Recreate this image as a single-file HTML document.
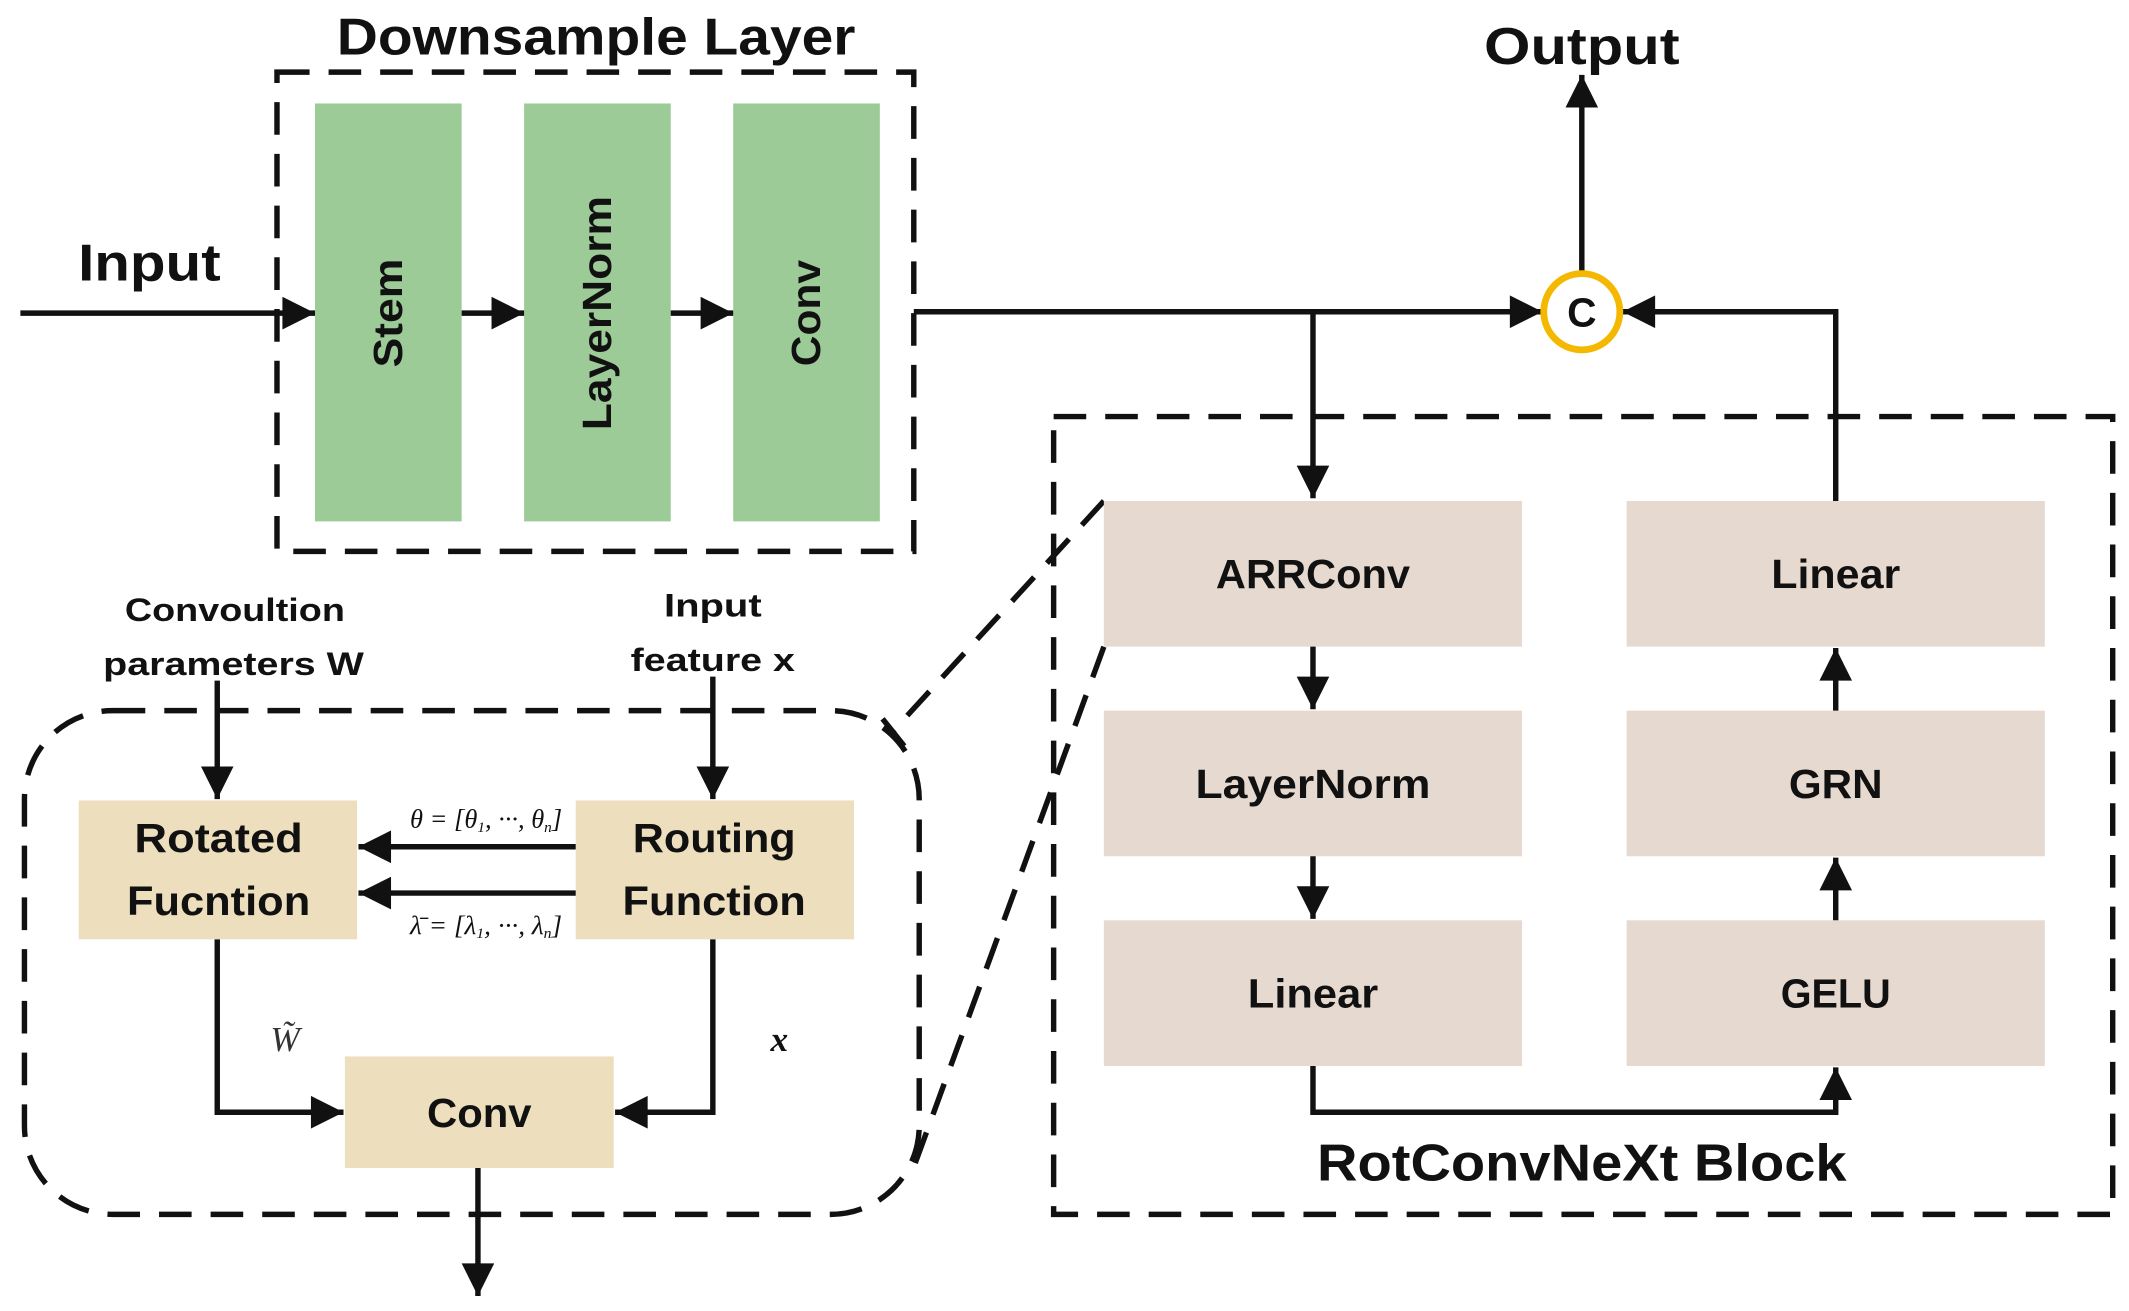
<!DOCTYPE html>
<html><head><meta charset="utf-8"><style>
html,body{margin:0;padding:0;background:#fff;}
svg{display:block;}
text{font-family:"Liberation Sans",sans-serif;font-weight:bold;fill:#111;}
</style></head><body>
<svg width="2129" height="1311" viewBox="0 0 1568 963" preserveAspectRatio="none" xmlns="http://www.w3.org/2000/svg">
<defs>
<marker id="a" viewBox="0 0 10 10" refX="10" refY="5" markerWidth="6.5" markerHeight="6" markerUnits="strokeWidth" orient="auto"><path d="M0,0 L10,5 L0,10 z" fill="#111"/></marker>
</defs>
<g stroke="#111" stroke-width="4" fill="none">
<rect x="204" y="53" width="469" height="352" stroke-dasharray="24,14"/>
<rect x="776" y="306" width="780" height="586" stroke-dasharray="24,14"/>
<rect x="18" y="522" width="659" height="370" rx="65" stroke-dasharray="24,14"/>
<line x1="813" y1="368" x2="655" y2="540" stroke-dasharray="24,14"/>
<line x1="813" y1="475" x2="672" y2="860" stroke-dasharray="24,14"/>
<line x1="650" y1="528" x2="666" y2="548"/>
</g>
<g fill="#9dcb98">
<rect x="232" y="76" width="108" height="307"/>
<rect x="386" y="76" width="108" height="307"/>
<rect x="540" y="76" width="108" height="307"/>
</g>
<g font-size="30" text-anchor="middle">
<text transform="translate(296,230) rotate(-90)" textLength="80" lengthAdjust="spacingAndGlyphs">Stem</text>
<text transform="translate(450,230) rotate(-90)" textLength="172" lengthAdjust="spacingAndGlyphs">LayerNorm</text>
<text transform="translate(604,230) rotate(-90)" textLength="78" lengthAdjust="spacingAndGlyphs">Conv</text>
</g>
<g fill="#e6d9d0">
<rect x="813" y="368" width="308" height="107"/>
<rect x="813" y="522" width="308" height="107"/>
<rect x="813" y="676" width="308" height="107"/>
<rect x="1198" y="368" width="308" height="107"/>
<rect x="1198" y="522" width="308" height="107"/>
<rect x="1198" y="676" width="308" height="107"/>
</g>
<g fill="#eddfbd">
<rect x="58" y="588" width="205" height="102"/>
<rect x="424" y="588" width="205" height="102"/>
<rect x="254" y="776" width="198" height="82"/>
</g>
<g stroke="#111" stroke-width="4" fill="none">
<line x1="15" y1="230" x2="232" y2="230" marker-end="url(#a)"/>
<line x1="340" y1="230" x2="386" y2="230" marker-end="url(#a)"/>
<line x1="494" y1="230" x2="540" y2="230" marker-end="url(#a)"/>
<line x1="673" y1="229" x2="1136" y2="229" marker-end="url(#a)"/>
<line x1="967" y1="229" x2="967" y2="366" marker-end="url(#a)"/>
<line x1="1165" y1="200" x2="1165" y2="55" marker-end="url(#a)"/>
<polyline points="1352,368 1352,229 1195,229" marker-end="url(#a)"/>
<line x1="967" y1="475" x2="967" y2="521" marker-end="url(#a)"/>
<line x1="967" y1="629" x2="967" y2="675" marker-end="url(#a)"/>
<line x1="1352" y1="676" x2="1352" y2="630" marker-end="url(#a)"/>
<line x1="1352" y1="522" x2="1352" y2="476" marker-end="url(#a)"/>
<polyline points="967,783 967,817 1352,817 1352,784" marker-end="url(#a)"/>
<line x1="160" y1="500" x2="160" y2="587" marker-end="url(#a)"/>
<line x1="525" y1="497" x2="525" y2="587" marker-end="url(#a)"/>
<line x1="424" y1="622" x2="264" y2="622" marker-end="url(#a)"/>
<line x1="424" y1="656" x2="264" y2="656" marker-end="url(#a)"/>
<polyline points="160,690 160,817 253,817" marker-end="url(#a)"/>
<polyline points="525,690 525,817 453,817" marker-end="url(#a)"/>
<line x1="352" y1="858" x2="352" y2="952" marker-end="url(#a)"/>
</g>
<circle cx="1165" cy="229" r="28" fill="#fff" stroke="#f5b800" stroke-width="5"/>
<text x="1165" y="240" font-size="30" text-anchor="middle">C</text>
<g text-anchor="middle">
<text x="439" y="40" font-size="38" textLength="382" lengthAdjust="spacingAndGlyphs">Downsample Layer</text>
<text x="1165" y="47" font-size="38" textLength="144" lengthAdjust="spacingAndGlyphs">Output</text>
<text x="110" y="206" font-size="38" textLength="105" lengthAdjust="spacingAndGlyphs">Input</text>
<text x="1165" y="867" font-size="38" textLength="390" lengthAdjust="spacingAndGlyphs">RotConvNeXt Block</text>
<text x="967" y="432" font-size="30" textLength="143" lengthAdjust="spacingAndGlyphs">ARRConv</text>
<text x="967" y="586" font-size="30" textLength="173" lengthAdjust="spacingAndGlyphs">LayerNorm</text>
<text x="967" y="740" font-size="30" textLength="96" lengthAdjust="spacingAndGlyphs">Linear</text>
<text x="1352" y="432" font-size="30" textLength="95" lengthAdjust="spacingAndGlyphs">Linear</text>
<text x="1352" y="586" font-size="30" textLength="69" lengthAdjust="spacingAndGlyphs">GRN</text>
<text x="1352" y="740" font-size="30" textLength="81" lengthAdjust="spacingAndGlyphs">GELU</text>
<text x="161" y="626" font-size="30" textLength="124" lengthAdjust="spacingAndGlyphs">Rotated</text>
<text x="161" y="672" font-size="30" textLength="135" lengthAdjust="spacingAndGlyphs">Fucntion</text>
<text x="526" y="626" font-size="30" textLength="120" lengthAdjust="spacingAndGlyphs">Routing</text>
<text x="526" y="672" font-size="30" textLength="135" lengthAdjust="spacingAndGlyphs">Function</text>
<text x="353" y="828" font-size="30" textLength="77" lengthAdjust="spacingAndGlyphs">Conv</text>
<text x="173" y="456" font-size="24" textLength="162" lengthAdjust="spacingAndGlyphs">Convoultion</text>
<text x="172" y="496" font-size="24" textLength="192" lengthAdjust="spacingAndGlyphs">parameters W</text>
<text x="525" y="453" font-size="24" textLength="72" lengthAdjust="spacingAndGlyphs">Input</text>
<text x="525" y="493" font-size="24" textLength="121" lengthAdjust="spacingAndGlyphs">feature x</text>
</g>
<text x="358" y="608" font-size="19" text-anchor="middle" textLength="112" lengthAdjust="spacingAndGlyphs" style="font-family:'Liberation Serif',serif;font-weight:normal;font-style:italic">θ = [θ<tspan font-size="11" dy="3">1</tspan><tspan dy="-3">, ···, θ</tspan><tspan font-size="11" dy="3">n</tspan><tspan dy="-3">]</tspan></text>
<text x="358" y="686" font-size="19" text-anchor="middle" textLength="112" lengthAdjust="spacingAndGlyphs" style="font-family:'Liberation Serif',serif;font-weight:normal;font-style:italic">λ̄ = [λ<tspan font-size="11" dy="3">1</tspan><tspan dy="-3">, ···, λ</tspan><tspan font-size="11" dy="3">n</tspan><tspan dy="-3">]</tspan></text>
<text x="210" y="772" font-size="26" text-anchor="middle" style="font-family:'Liberation Serif',serif;font-weight:normal;font-style:italic;fill:#333">W̃</text>
<text x="574" y="772" font-size="26" text-anchor="middle" style="font-family:'Liberation Serif',serif;font-weight:bold;font-style:italic">x</text>
</svg>
</body></html>
